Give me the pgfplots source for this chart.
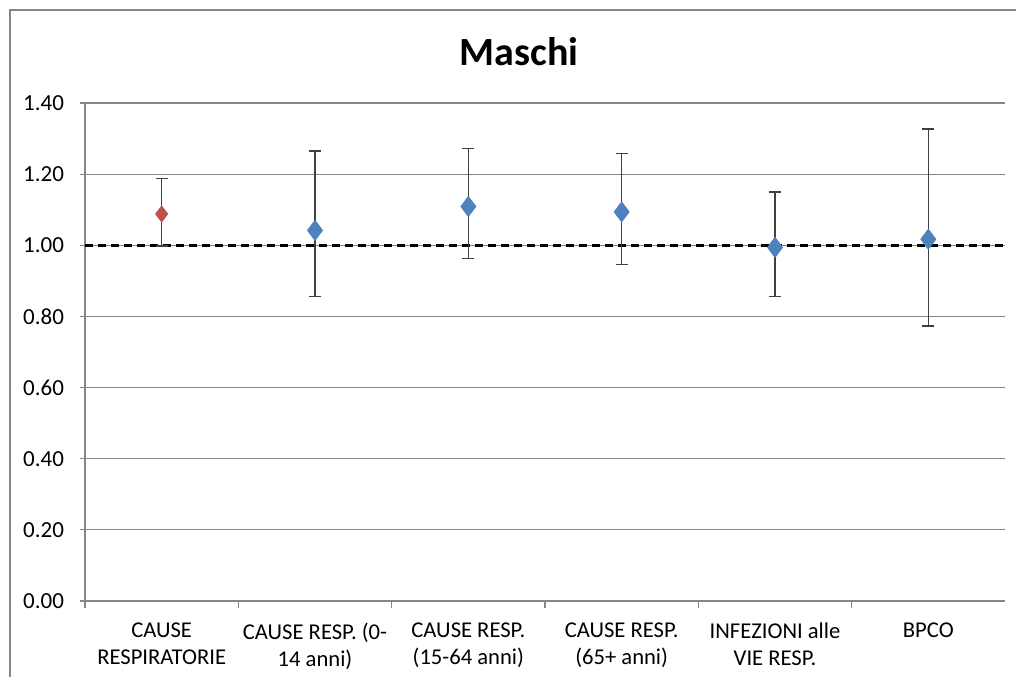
\documentclass[border=0pt]{standalone}
\usepackage{pgfplots}
\pgfplotsset{compat=1.18}
\usepackage{pgfplotstable}
\usepackage{fontspec}
\setmainfont{Carlito}
\definecolor{exred}{RGB}{192,80,77}
\definecolor{exblue}{RGB}{79,129,189}
\definecolor{gridgray}{RGB}{134,134,134}
\definecolor{errgray}{RGB}{64,64,64}
\pgfplotstableread{
x y ep em
0 1.088 0.099 0.090
}\redtab
\pgfplotstableread{
x y ep em
1 1.042 0.223 0.185
2 1.109 0.164 0.147
3 1.094 0.165 0.147
4 0.994 0.156 0.137
5 1.017 0.310 0.244
}\bluetab
\begin{document}
\begin{tikzpicture}
\useasboundingbox (-42.5pt,-37.5pt) rectangle (465.5pt,300.5pt);
\draw[gridgray, line width=0.8pt] (-37.5pt,-40pt) -- (-37.5pt,295.5pt) -- (470pt,295.5pt);
\begin{axis}[
  at={(0,0)}, anchor=south west,
  scale only axis, width=460pt, height=249pt,
  xmin=-0.5, xmax=5.5, ymin=0, ymax=1.4,
  ytick={0,0.2,...,1.41},
  xtick={0,...,5},
  xticklabels={{CAUSE\\RESPIRATORIE},{CAUSE RESP. (0-\\14 anni)},{CAUSE RESP.\\(15-64 anni)},{CAUSE RESP.\\(65+ anni)},{INFEZIONI alle\\VIE RESP.},{BPCO}},
  minor xtick={-0.5,0.5,...,4.6},
  major x tick style={draw=none},
  minor tick length=3.5pt,
  major tick length=2.5pt,
  tick align=outside,
  axis x line*=bottom, axis y line*=left,
  axis line style={gridgray, line width=0.6pt, -},
  every tick/.style={gridgray, line width=0.6pt},
  ymajorgrids, grid style={gridgray, line width=0.6pt},
  yticklabel style={/pgf/number format/.cd, fixed, fixed zerofill, precision=2, /tikz/.cd, font=\fontsize{11.5}{13}\selectfont, xshift=-4.5pt},
  /pgf/number format/assume math mode=true,
  xticklabel style={align=center, font=\fontsize{11.3}{13.5}\selectfont, yshift=-5pt},
  clip=false,
]
\addplot[black, line width=1.7pt, dash pattern=on 4.2pt off 2.3pt, forget plot] coordinates {(-0.5,1) (5.5,1)};
\addplot[only marks, mark=diamond*, mark size=4pt, mark options={fill=exred, draw=exred},
  error bars/.cd, y dir=both, y explicit, error bar style={errgray, line width=0.6pt},
  error mark options={errgray, line width=0.6pt, rotate=90, mark size=3pt}]
  table[x=x, y=y, y error plus=ep, y error minus=em] {\redtab};
\addplot[only marks, mark=diamond*, mark size=5pt, mark options={fill=exblue, draw=exblue},
  error bars/.cd, y dir=both, y explicit, error bar style={errgray, line width=0.6pt},
  error mark options={errgray, line width=0.6pt, rotate=90, mark size=3pt}]
  table[x=x, y=y, y error plus=ep, y error minus=em] {\bluetab};
\end{axis}
\node[font=\bfseries\fontsize{20}{24}\selectfont] at (217pt,274.5pt) {Maschi};
\end{tikzpicture}
\end{document}
